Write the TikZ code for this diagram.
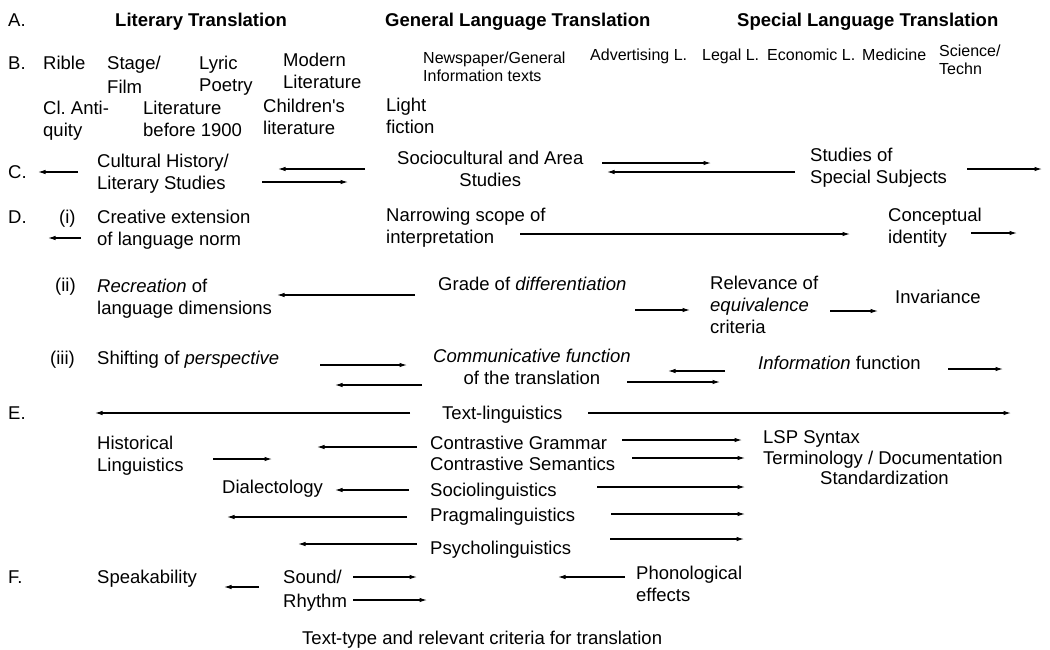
\documentclass[tikz,border=0pt]{standalone}
\usepackage{fontspec}
\setmainfont{Liberation Sans}
\usetikzlibrary{arrows.meta}

\begin{document}
% Each text node is placed by the baseline of its last line.
\begin{tikzpicture}[x=1pt,y=-1pt,
  lbl/.style={anchor=base west, inner sep=0pt, align=left,
              font=\fontsize{18.5}{22.5}\selectfont},
  lblc/.style={lbl, align=center},
  small/.style={lbl, font=\fontsize{16}{18.5}\selectfont},
  head/.style={lbl, font=\fontsize{18.5}{22.5}\selectfont\bfseries},
  arr/.style={line width=1.1pt, -{Latex[length=7.5pt,width=4.5pt]}}
]
\useasboundingbox (0,0) rectangle (1050,649);

% ---- A: text types
\node[lbl]  (rA)   at (8,26.5)   {A.};
\node[head] (lit)  at (115,26.5) {Literary Translation};
\node[head] (gen)  at (385,26.5) {General Language Translation};
\node[head] (spec) at (737,26.5) {Special Language Translation};

% ---- B: genres
\node[lbl] (rB)     at (8,69.5)    {B.};
\node[lbl] (bible)  at (43,69.5)   {Rible};
\node[lbl, font=\fontsize{18.5}{24}\selectfont] (stage) at (107,93.5) {Stage/\\Film};
\node[lbl] (lyric)  at (199,91.5)  {Lyric\\Poetry};
\node[lbl] (modern) at (283,88.5)  {Modern\\Literature};
\node[small] (news) at (423,81.8)  {Newspaper/General\\Information texts};
\node[small] (adv)  at (590,60)    {Advertising L.};
\node[small] (legal) at (702,60)   {Legal L.};
\node[small] (econ) at (767,60)    {Economic L.};
\node[small] (med)  at (862,60)    {Medicine};
\node[small] (sci)  at (939,74.8)  {Science/\\Techn};
\node[lbl] (anti)   at (43,136.5)  {Cl.\ Anti-\\quity};
\node[lbl] (old)    at (143,136.5) {Literature\\before 1900};
\node[lbl] (child)  at (263,134.5) {Children\textquotesingle s\\literature};
\node[lbl] (light)  at (386,133.5) {Light\\fiction};

% ---- C: background studies
\node[lbl]  (rC)    at (8,178.5)   {C.};
\node[lbl]  (cult)  at (97,189.5)  {Cultural History/\\Literary Studies};
\node[lblc] (socio) at (397,186.5) {Sociocultural and Area\\Studies};
\node[lbl]  (subj)  at (810,183.5) {Studies of\\Special Subjects};

% ---- D: translation criteria
\node[lbl] (rD)     at (8,223.5)   {D.};
\node[lbl] (di)     at (59,223.5)  {(i)};
\node[lbl] (creat)  at (97,245.5)  {Creative extension\\of language norm};
\node[lbl] (narrow) at (386,243.5) {Narrowing scope of\\interpretation};
\node[lbl] (ident)  at (888,243.5) {Conceptual\\identity};

\node[lbl] (dii)    at (55,291.5)  {(ii)};
\node[lbl] (recr)   at (97,314.5)  {\textit{Recreation} of\\language dimensions};
\node[lbl] (grade)  at (438,290.5) {Grade of \textit{differentiation}};
\node[lbl, font=\fontsize{18.5}{22}\selectfont] (relev) at (710,333.5) {Relevance of\\\textit{equivalence}\\criteria};
\node[lbl] (inv)    at (895,303.5) {Invariance};

\node[lbl]  (diii)  at (50,364.5)  {(iii)};
\node[lbl]  (shift) at (97,364.5)  {Shifting of \textit{perspective}};
\node[lblc] (comm)  at (433,384.5) {\textit{Communicative function}\\of the translation};
\node[lbl]  (info)  at (758,369.5) {\textit{Information} function};

% ---- E: linguistic disciplines
\node[lbl] (rE)     at (8,419.5)   {E.};
\node[lbl] (textl)  at (442,419.5) {Text-linguistics};
\node[lbl] (hist)   at (97,471.5)  {Historical\\Linguistics};
\node[lbl, font=\fontsize{18.5}{21}\selectfont] (contr) at (430,470.5) {Contrastive Grammar\\Contrastive Semantics};
\node[lbl, font=\fontsize{18.5}{20.5}\selectfont] (lsp) at (763,484.5)
  {LSP Syntax\\Terminology / Documentation\\\hspace*{57pt}Standardization};
\node[lbl] (dial)   at (222,493.5) {Dialectology};
\node[lbl] (socl)   at (430,496.5) {Sociolinguistics};
\node[lbl] (pragm)  at (430,521.5) {Pragmalinguistics};
\node[lbl] (psych)  at (430,554.5) {Psycholinguistics};

% ---- F: sound
\node[lbl] (rF)     at (8,583.5)   {F.};
\node[lbl] (speak)  at (97,583.5)  {Speakability};
\node[lbl, font=\fontsize{18.5}{24}\selectfont] (sound) at (283,607.5) {Sound/\\Rhythm};
\node[lbl] (phon)   at (636,601.5) {Phonological\\effects};

\node[lbl] (cap)    at (302,644.5) {Text-type and relevant criteria for translation};

% ---- arrows: index / tail x / head x / y
\foreach \i/\xa/\xb/\yy in {
   1/78/38/172,   2/365/278/169,  3/262/348/182,  4/602/711/163,
   5/795/607/172, 6/967/1042/169,
   7/81/48/238,   8/520/850/234,  9/971/1017/233,
  10/415/277/295, 11/635/690/310, 12/830/878/311,
  13/320/407/365, 14/422/335/385, 15/725/668/371, 16/627/720/382,
  17/948/1003/369,
  18/410/95/413,  19/588/1011/413, 20/417/317/447, 21/213/272/459,
  22/622/742/440, 23/632/745/458, 24/409/335/490, 25/597/745/487,
  26/407/227/517, 27/611/745/514, 28/417/298/544, 29/610/744/539,
  30/259/224/587, 31/353/417/577, 32/353/427/600, 33/625/558/577}
{
  \coordinate (t\i) at (\xa,\yy);
  \coordinate (h\i) at (\xb,\yy);
  \draw[arr] (t\i) -- (h\i);
}
\end{tikzpicture}
\end{document}
